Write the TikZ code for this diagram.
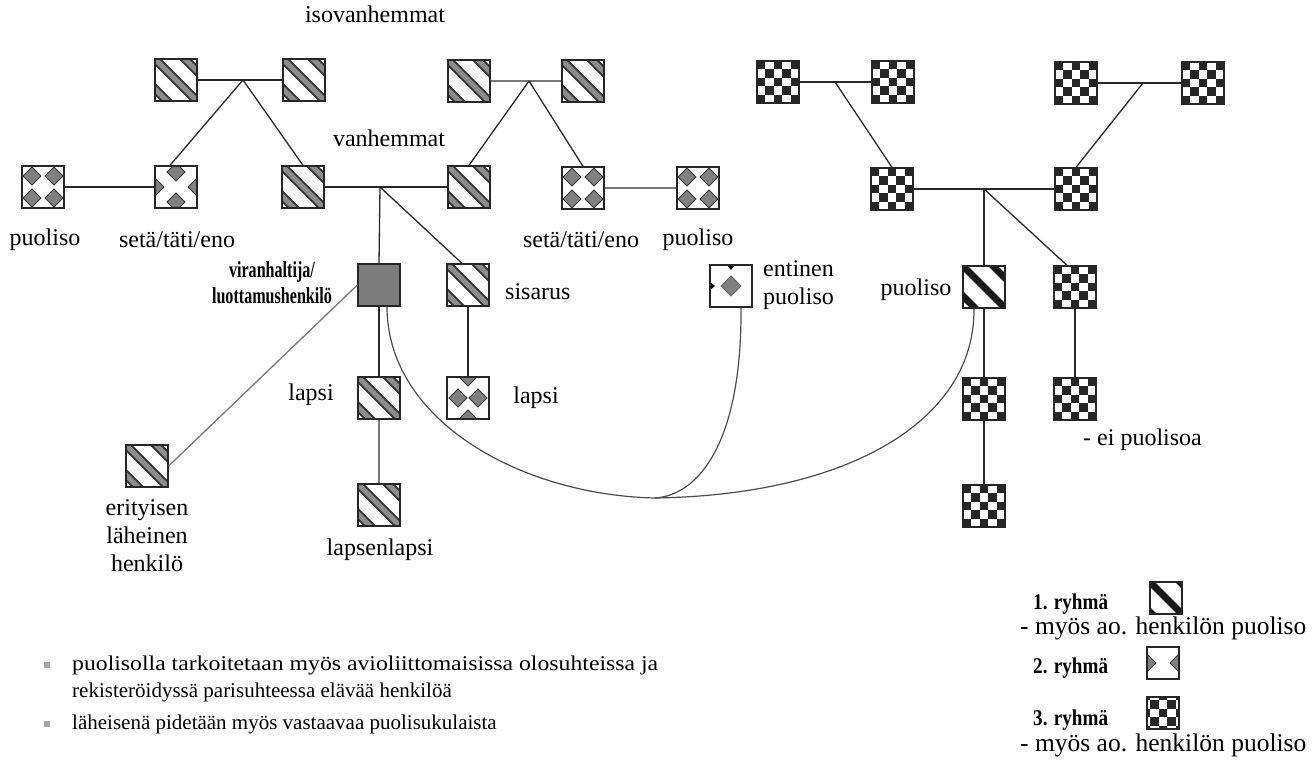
\documentclass[tikz,border=0pt]{standalone}
\usepackage{fontspec}
\usepackage{graphicx}
\setmainfont{Liberation Serif}
\usetikzlibrary{calc}
\definecolor{mainfill}{RGB}{125,125,125}
\definecolor{stripe}{RGB}{140,140,140}
\definecolor{lnk}{RGB}{40,40,40}
\definecolor{lgray}{RGB}{120,120,120}
\tikzset{
  pbox/.style={draw=black!85, line width=1.3pt, minimum size=42pt, inner sep=0pt, fill=white},
  gone/.style={pbox, path picture={
     \foreach \o in {-30,0,30}{
       \draw[shift={(path picture bounding box.center)}, line width=9pt, black!80] (-30+\o,-30) -- (30+\o,30);
       \draw[shift={(path picture bounding box.center)}, line width=5pt, stripe] (-30+\o,-30) -- (30+\o,30);
     }}},
  gonedark/.style={pbox, path picture={
     \foreach \o in {-30,0,30}{
       \draw[shift={(path picture bounding box.center)}, line width=7pt, black!90] (-30+\o,-30) -- (30+\o,30);
     }}},
  gtwo/.style={pbox, path picture={
     \foreach \dx/\dy in {#1}{
       \filldraw[shift={(path picture bounding box.center)}, fill=gray, draw=black!80, line width=1pt]
          (\dx-9,\dy) -- (\dx,\dy-9) -- (\dx+9,\dy) -- (\dx,\dy+9) -- cycle;
     }}},
  gthree/.style={pbox, path picture={
     \foreach \i in {0,...,5}{\foreach \j in {0,...,5}{
       \ifodd\numexpr\i+\j\relax\else
       \fill[shift={(path picture bounding box.center)}, black!85] (-21+\i*8.4,-21+\j*8.4) rectangle ++(8.4,8.4);
       \fi }}}},
  mainbox/.style={pbox, fill=mainfill},
  entbox/.style={pbox, path picture={
     \filldraw[shift={(path picture bounding box.center)}, fill=gray, draw=black!60, line width=0.8pt]
        (-10,0) -- (0,-10) -- (10,0) -- (0,10) -- cycle;
     \fill[shift={(path picture bounding box.center)}, black] (-4,-21) -- (4,-21) -- (0,-16) -- cycle;
     \fill[shift={(path picture bounding box.center)}, black] (-21,-4) -- (-21,4) -- (-16,0) -- cycle;
     }},
  lab/.style={font=\fontsize{24}{28}\selectfont, inner sep=0pt},
  note/.style={font=\fontsize{21}{24}\selectfont, inner sep=0pt, anchor=west},
  leg/.style={font=\fontsize{25.5}{28}\selectfont, inner sep=0pt, anchor=west},
  legb/.style={font=\bfseries\fontsize{22.5}{26}\selectfont, inner sep=0pt, anchor=west},
  bullet/.style={fill=gray!70, minimum size=6pt, inner sep=0pt},
  link/.style={draw=lnk, line width=1.3pt},
  glink/.style={draw=lgray, line width=1.3pt},
  curve/.style={draw=black!70, line width=1.2pt},
}
\begin{document}
\begin{tikzpicture}[x=1pt,y=-1pt]
\useasboundingbox (0,0) rectangle (1314,771);

% ---------- left family ----------
\node[lab] (iso) at (375,14) {isovanhemmat};
\node[gone] (gpA) at (176,80) {};
\node[gone] (gpB) at (304,80) {};
\node[gone] (gpC) at (469,81) {};
\node[gone] (gpD) at (583,81) {};
\coordinate (jL) at (243,80);
\coordinate (jR) at (529,81);

\node[lab] (van) at (389,138) {vanhemmat};
\node[gtwo={-11/-11,11/-11,-11/11,11/11}] (puolL) at (43,187) {};
\node[gtwo={0/-15,0/15,-21/0,21/0}] (setaL) at (176,187) {};
\node[gone] (parL) at (303,187) {};
\node[gone] (parR) at (469,187) {};
\node[gtwo={-11/-11,11/-11,-11/11,11/11}] (setaR) at (583,188) {};
\node[gtwo={-11/-11,11/-11,-11/11,11/11}] (puolR) at (698,188) {};
\coordinate (jP) at (380,187);

\node[lab] (lpuolL) at (45,240) {puoliso};
\node[lab] (lsetaL) at (177,240) {setä/täti/eno};
\node[lab] (lsetaR) at (581,240) {setä/täti/eno};
\node[lab] (lpuolR) at (698,240) {puoliso};

\node[mainbox] (main) at (379,285) {};
\node[font=\bfseries\fontsize{23}{26}\selectfont, inner sep=0pt, align=center] (mainlab) at (272,283)
   {\scalebox{0.7}[1]{viranhaltija/}\\\scalebox{0.7}[1]{luottamushenkilö}};
\node[gone] (sis) at (468,285) {};
\node[lab, anchor=west] (lsis) at (505,292) {sisarus};
\node[entbox] (ent) at (731,286) {};
\node[lab, anchor=west, align=left] (lent) at (763,285) {entinen\\puoliso};

\node[gone] (lapsi) at (379,398) {};
\node[lab] (llapsi) at (311,395) {lapsi};
\node[gtwo={-10/0,10/0,0/-21,0/21}] (lapsiB) at (468,398) {};
\node[lab] (llapsiB) at (536,398) {lapsi};

\node[gone] (erit) at (147,466) {};
\node[lab, align=center] (lerit) at (147,536) {erityisen\\läheinen\\henkilö};
\node[gone] (llap) at (379,505) {};
\node[lab] (lllap) at (380,550) {lapsenlapsi};

% ---------- right family ----------
\node[gthree] (rA) at (778,82) {};
\node[gthree] (rB) at (893,82) {};
\node[gthree] (rC) at (1076,83) {};
\node[gthree] (rD) at (1203,83) {};
\coordinate (jRL) at (835,82);
\coordinate (jRR) at (1143,83);
\node[gthree] (rpL) at (892,189) {};
\node[gthree] (rpR) at (1076,189) {};
\coordinate (jRP) at (984,189);
\node[gonedark] (rpuol) at (984,287) {};
\node[lab] (lrpuol) at (916,290) {puoliso};
\node[gthree] (rsib) at (1075,287) {};
\node[gthree] (rc1) at (984,399) {};
\node[gthree] (rc2) at (984,506) {};
\node[gthree] (rc3) at (1075,399) {};
\node[lab, anchor=west] (lnop) at (1083,440) {- ei puolisoa};

% ---------- connectors ----------
\draw[link] (gpA) -- (gpB);
\draw[link] (jL) -- ([xshift=-6pt]setaL.north);
\draw[link] (jL) -- (parL.north);
\draw[glink] (gpC) -- (gpD);
\draw[link] (jR) -- (parR.north);
\draw[link] (jR) -- (setaR.north);
\draw[link] (puolL) -- (setaL);
\draw[link] (parL) -- (parR);
\draw[glink] (setaR) -- (puolR);
\draw[link] (jP) -- (main.north);
\draw[link] (jP) -- ([xshift=-6pt]sis.north);
\draw[link] (main) -- (lapsi);
\draw[glink] (lapsi) -- (llap);
\draw[link] (sis) -- (lapsiB);
\draw[glink] (main.west) -- (erit.east);

\draw[link] (rA) -- (rB);
\draw[link] (jRL) -- (rpL.north);
\draw[link] (rC) -- (rD);
\draw[link] (jRR) -- (rpR.north);
\draw[link] (rpL) -- (rpR);
\draw[link] (jRP) -- (rpuol.north);
\draw[link] (jRP) -- ([xshift=-8pt]rsib.north);
\draw[link] (rpuol) -- (rc1);
\draw[link] (rc1) -- (rc2);
\draw[link] (rsib) -- (rc3);

\coordinate (meet) at (655,498);
\draw[curve] ([xshift=8pt]main.south) .. controls (387,420) and (520,495) .. (meet);
\draw[curve] ([xshift=10pt]ent.south) .. controls (742,440) and (700,495) .. (meet);
\draw[curve] ([xshift=-10pt]rpuol.south) .. controls (975,420) and (850,495) .. (meet);

% ---------- notes ----------
\node[bullet] (b1) at (47,665) {};
\node[bullet] (b2) at (47,724) {};
\node[note] (n1) at (72,665) {\scalebox{1.13}[1]{puolisolla tarkoitetaan myös avioliittomaisissa olosuhteissa ja}};
\node[note] (n2) at (72,692) {rekisteröidyssä parisuhteessa elävää henkilöä};
\node[note] (n3) at (72,724) {läheisenä pidetään myös vastaavaa puolisukulaista};

% ---------- legend ----------
\node[legb] (g1t) at (1033,604) {\scalebox{0.85}[1]{1. ryhmä}};
\node[gonedark, minimum size=32pt] (g1b) at (1166,598) {};
\node[leg] (g1s) at (1020,628) {- myös ao. henkilön puoliso};
\node[legb] (g2t) at (1033,668) {\scalebox{0.85}[1]{2. ryhmä}};
\node[gtwo={-16/0,16/0}, minimum size=32pt] (g2b) at (1163,663) {};
\node[legb] (g3t) at (1033,720) {\scalebox{0.85}[1]{3. ryhmä}};
\node[gthree, minimum size=32pt] (g3b) at (1163,713) {};
\node[leg] (g3s) at (1020,745) {- myös ao. henkilön puoliso};
\end{tikzpicture}
\end{document}
